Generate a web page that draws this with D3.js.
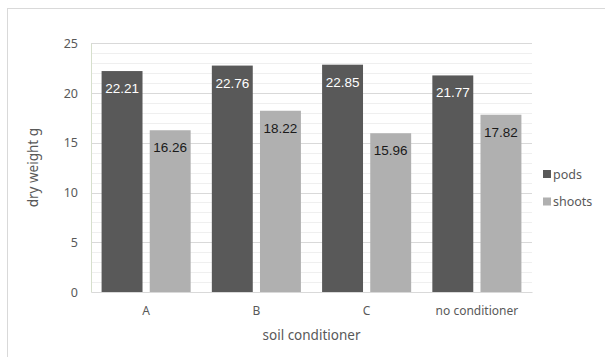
<!DOCTYPE html>
<html><head><meta charset="utf-8">
<script src="https://cdn.jsdelivr.net/npm/d3@7"></script>
<style>body{margin:0;background:#fff}svg{display:block}</style>
</head><body>
<script>
const categories = ["A", "B", "C", "no conditioner"];
const seriesNames = ["pods", "shoots"];
const pods = [22.21, 22.76, 22.85, 21.77];
const shoots = [16.26, 18.22, 15.96, 17.82];
const yTicks = [0, 5, 10, 15, 20, 25];
const colors = ["#595959", "#b0b0b0"];
const labelColors = ["#ffffff", "#1a1a1a"];

const W = 605, H = 357;
const m = {left: 91, right: 532, top: 43.3, bottom: 292};
const svg = d3.select("body").append("svg").attr("width", W).attr("height", H);
const font = "'Noto Sans', 'Open Sans', sans-serif";

svg.append("rect").attr("x", 7.5).attr("y", 8.5).attr("width", W).attr("height", H)
  .attr("fill", "none").attr("stroke", "#d9d9d9");

const y = d3.scaleLinear().domain([0, 25]).range([m.bottom, m.top]);
const x0 = d3.scaleBand().domain(categories).range([m.left, m.right]).paddingInner(0).paddingOuter(0);
const x1 = d3.scaleBand().domain(seriesNames).range([0, x0.bandwidth()]).paddingInner(0.15).paddingOuter(0.22);

// minor gridlines
svg.append("g").selectAll("line").data(d3.range(1, 25).filter(v => v % 5 !== 0)).join("line")
  .attr("x1", m.left).attr("x2", m.right)
  .attr("y1", d => Math.round(y(d)) + 0.5).attr("y2", d => Math.round(y(d)) + 0.5)
  .attr("stroke", "#efefef");
// major gridlines
svg.append("g").selectAll("line").data(yTicks.filter(v => v > 0)).join("line")
  .attr("x1", m.left).attr("x2", m.right)
  .attr("y1", d => Math.round(y(d)) + 0.5).attr("y2", d => Math.round(y(d)) + 0.5)
  .attr("stroke", "#d9d9d9");

// y axis
const yAxis = d3.axisLeft(y).tickValues(yTicks).tickSize(0).tickPadding(13);
const gy = svg.append("g").attr("transform", `translate(${m.left},0)`).call(yAxis);
gy.select(".domain").attr("stroke", "#d6dfcc");
gy.selectAll("text").attr("font-family", font).attr("font-size", 12.5).attr("fill", "#595959");

// bars
const data = [pods, shoots];
const groups = svg.append("g").selectAll("g").data(categories).join("g")
  .attr("transform", d => `translate(${x0(d)},0)`);
groups.each(function(cat, i) {
  const g = d3.select(this);
  seriesNames.forEach((s, j) => {
    const v = data[j][i];
    g.append("rect").attr("x", x1(s)).attr("y", y(v))
      .attr("width", x1.bandwidth()).attr("height", y(0) - y(v))
      .attr("fill", colors[j]);
    g.append("text").attr("x", x1(s) + x1.bandwidth() / 2).attr("y", y(v) + 22)
      .attr("text-anchor", "middle").attr("font-family", "'Liberation Sans', Arial, sans-serif")
      .attr("font-size", 13.5).attr("fill", labelColors[j]).text(v.toFixed(2));
  });
});

// x axis
const xAxis = d3.axisBottom(x0).tickSize(0).tickPadding(14);
const gx = svg.append("g").attr("transform", `translate(0,${m.bottom})`).call(xAxis);
gx.select(".domain").attr("stroke", "#d9d9d9");
gx.selectAll("text").attr("font-family", font).attr("font-size", 12).attr("fill", "#595959");

// axis titles
svg.append("text").attr("x", (m.left + m.right) / 2).attr("y", 340)
  .attr("text-anchor", "middle").attr("font-family", font).attr("font-size", 13.5)
  .attr("fill", "#595959").text("soil conditioner");
svg.append("text").attr("transform", `translate(38,${(m.top + m.bottom) / 2}) rotate(-90)`)
  .attr("text-anchor", "middle").attr("font-family", font).attr("font-size", 13.5)
  .attr("fill", "#595959").text("dry weight g");

// legend
const leg = svg.append("g").selectAll("g").data(seriesNames).join("g")
  .attr("transform", (d, i) => `translate(543,${170 + i * 27.5})`);
leg.append("rect").attr("width", 8).attr("height", 8).attr("fill", (d, i) => colors[i]);
leg.append("text").attr("x", 10).attr("y", 8.5).attr("font-family", font).attr("font-size", 12.5)
  .attr("fill", "#595959").text(d => d);
</script>
</body></html>
